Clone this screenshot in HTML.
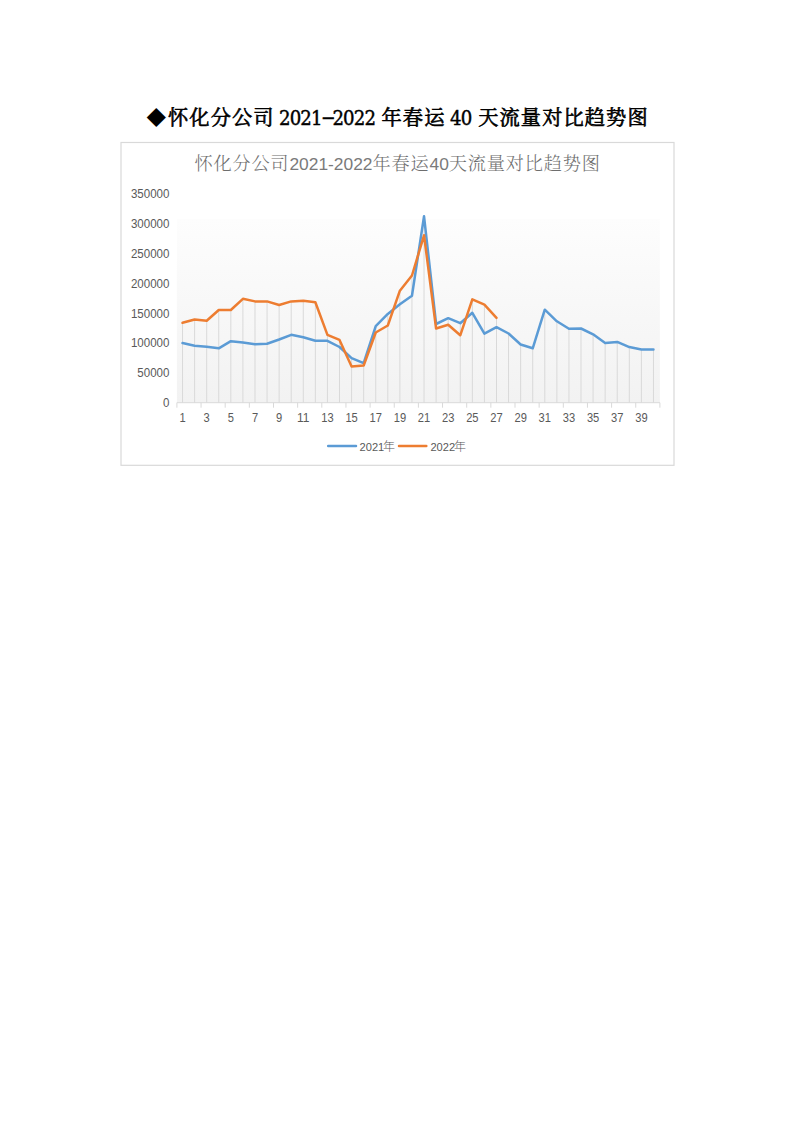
<!DOCTYPE html>
<html><head><meta charset="utf-8"><style>
html,body{margin:0;padding:0;background:#fff;}
body{width:793px;height:1122px;position:relative;overflow:hidden;}
.h{position:absolute;top:0;font-family:"Liberation Serif","Noto Serif CJK SC",serif;font-weight:700;font-size:21.33px;line-height:1;white-space:nowrap;color:#000;}
.hc{font-family:"Noto Serif CJK SC",serif;font-weight:400;-webkit-text-stroke:0.65px #000;}
.n{font-family:'DejaVu Serif',serif;font-weight:400;-webkit-text-stroke:0.45px #000;transform:scaleX(0.86);transform-origin:0 0;}
svg{position:absolute;left:0;top:0;}
.tt{font-family:'Liberation Sans',sans-serif;font-size:17.4px;fill:#7a7a7a;}
.tc{font-family:'Noto Serif CJK SC',serif;font-size:18.2px;font-weight:300;letter-spacing:0.8px;fill:#6e6e6e;}
.lg text{font-size:11.1px !important;}
.lc{font-family:'Noto Sans CJK SC',sans-serif;font-size:12px;font-weight:300;}
.ax text{font-family:"Liberation Sans",sans-serif;font-size:12px;fill:#595959;}
</style></head><body>
<div class="h hc" style="left:146.6px;top:106.5px;font-size:19.6px;-webkit-text-stroke:0;font-weight:700">◆</div>
<div class="h hc" style="left:168px;top:107px;font-size:20.2px;letter-spacing:1.13px">怀化分公司</div>
<div class="h n" style="left:279px;top:107.4px;font-size:21.1px;letter-spacing:-1px">2021<span style="display:inline-block;width:12.4px;text-align:center;transform:scaleX(2.3);position:relative;top:-1.6px">-</span>2022</div>
<div class="h hc" style="left:381.5px;top:107px;font-size:20.2px;letter-spacing:1.13px">年春运</div>
<div class="h n" style="left:450px;top:107.4px;font-size:21.1px;letter-spacing:-1px">40</div>
<div class="h hc" style="left:478.2px;top:107px;font-size:20.2px;letter-spacing:1.13px">天流量对比趋势图</div>
<svg width="793" height="1122" viewBox="0 0 793 1122">
<defs><linearGradient id="g" x1="0" y1="0" x2="0" y2="1">
<stop offset="0" stop-color="#fdfdfd"/><stop offset="1" stop-color="#f2f2f2"/></linearGradient></defs>
<rect x="121.0" y="142.5" width="553" height="322.8" fill="#fff" stroke="#d9d9d9" stroke-width="1.2"/>
<rect x="176.90" y="219" width="483.00" height="183.70" fill="url(#g)"/>
<path d="M182.54 322.80V402.70 M194.61 319.50V402.70 M206.69 320.80V402.70 M218.76 310.00V402.70 M230.84 310.00V402.70 M242.91 298.80V402.70 M254.99 301.40V402.70 M267.06 301.40V402.70 M279.14 305.00V402.70 M291.21 301.40V402.70 M303.29 300.70V402.70 M315.36 302.30V402.70 M327.44 334.90V402.70 M339.51 339.90V402.70 M351.59 358.10V402.70 M363.66 363.20V402.70 M375.74 326.20V402.70 M387.81 313.90V402.70 M399.89 290.70V402.70 M411.96 275.50V402.70 M424.04 216.30V402.70 M436.11 324.00V402.70 M448.19 318.20V402.70 M460.26 323.20V402.70 M472.34 299.40V402.70 M484.41 304.70V402.70 M496.49 317.80V402.70 M508.56 333.50V402.70 M520.64 344.50V402.70 M532.71 348.30V402.70 M544.79 309.70V402.70 M556.86 321.30V402.70 M568.94 328.80V402.70 M581.01 328.50V402.70 M593.09 334.30V402.70 M605.16 342.90V402.70 M617.24 341.90V402.70 M629.31 347.10V402.70 M641.39 349.40V402.70 M653.46 349.40V402.70" stroke="#d9d9d9" stroke-width="1" fill="none"/>
<path d="M176.90 402.70H659.90 M176.90 402.70V407.7 M201.05 402.70V407.7 M225.20 402.70V407.7 M249.35 402.70V407.7 M273.50 402.70V407.7 M297.65 402.70V407.7 M321.80 402.70V407.7 M345.95 402.70V407.7 M370.10 402.70V407.7 M394.25 402.70V407.7 M418.40 402.70V407.7 M442.55 402.70V407.7 M466.70 402.70V407.7 M490.85 402.70V407.7 M515.00 402.70V407.7 M539.15 402.70V407.7 M563.30 402.70V407.7 M587.45 402.70V407.7 M611.60 402.70V407.7 M635.75 402.70V407.7 M659.90 402.70V407.7" stroke="#d9d9d9" stroke-width="1" fill="none"/>
<polyline points="182.54,343.00 194.61,345.80 206.69,346.80 218.76,348.30 230.84,341.20 242.91,342.50 254.99,344.30 267.06,343.80 279.14,339.50 291.21,334.80 303.29,337.20 315.36,340.70 327.44,340.80 339.51,347.00 351.59,358.10 363.66,363.20 375.74,326.20 387.81,313.90 399.89,304.30 411.96,295.70 424.04,216.30 436.11,324.00 448.19,318.20 460.26,323.20 472.34,312.80 484.41,333.70 496.49,327.20 508.56,333.50 520.64,344.50 532.71,348.30 544.79,309.70 556.86,321.30 568.94,328.80 581.01,328.50 593.09,334.30 605.16,342.90 617.24,341.90 629.31,347.10 641.39,349.40 653.46,349.40" fill="none" stroke="#5B9BD5" stroke-width="2.5" stroke-linejoin="round" stroke-linecap="round"/>
<polyline points="182.54,322.80 194.61,319.50 206.69,320.80 218.76,310.00 230.84,310.00 242.91,298.80 254.99,301.40 267.06,301.40 279.14,305.00 291.21,301.40 303.29,300.70 315.36,302.30 327.44,334.90 339.51,339.90 351.59,366.50 363.66,365.50 375.74,332.50 387.81,325.50 399.89,290.70 411.96,275.50 424.04,235.30 436.11,328.50 448.19,324.70 460.26,335.30 472.34,299.40 484.41,304.70 496.49,317.80" fill="none" stroke="#ED7D31" stroke-width="2.5" stroke-linejoin="round" stroke-linecap="round"/>
<g class="ax" text-anchor="middle"><text x="182.54" y="422.2" textLength="6.20" lengthAdjust="spacingAndGlyphs">1</text><text x="206.69" y="422.2" textLength="6.20" lengthAdjust="spacingAndGlyphs">3</text><text x="230.84" y="422.2" textLength="6.20" lengthAdjust="spacingAndGlyphs">5</text><text x="254.99" y="422.2" textLength="6.20" lengthAdjust="spacingAndGlyphs">7</text><text x="279.14" y="422.2" textLength="6.20" lengthAdjust="spacingAndGlyphs">9</text><text x="303.29" y="422.2" textLength="12.40" lengthAdjust="spacingAndGlyphs">11</text><text x="327.44" y="422.2" textLength="12.40" lengthAdjust="spacingAndGlyphs">13</text><text x="351.59" y="422.2" textLength="12.40" lengthAdjust="spacingAndGlyphs">15</text><text x="375.74" y="422.2" textLength="12.40" lengthAdjust="spacingAndGlyphs">17</text><text x="399.89" y="422.2" textLength="12.40" lengthAdjust="spacingAndGlyphs">19</text><text x="424.04" y="422.2" textLength="12.40" lengthAdjust="spacingAndGlyphs">21</text><text x="448.19" y="422.2" textLength="12.40" lengthAdjust="spacingAndGlyphs">23</text><text x="472.34" y="422.2" textLength="12.40" lengthAdjust="spacingAndGlyphs">25</text><text x="496.49" y="422.2" textLength="12.40" lengthAdjust="spacingAndGlyphs">27</text><text x="520.64" y="422.2" textLength="12.40" lengthAdjust="spacingAndGlyphs">29</text><text x="544.79" y="422.2" textLength="12.40" lengthAdjust="spacingAndGlyphs">31</text><text x="568.94" y="422.2" textLength="12.40" lengthAdjust="spacingAndGlyphs">33</text><text x="593.09" y="422.2" textLength="12.40" lengthAdjust="spacingAndGlyphs">35</text><text x="617.24" y="422.2" textLength="12.40" lengthAdjust="spacingAndGlyphs">37</text><text x="641.39" y="422.2" textLength="12.40" lengthAdjust="spacingAndGlyphs">39</text></g>
<g class="ax" text-anchor="end"><text x="169.4" y="407.20" textLength="6.42" lengthAdjust="spacingAndGlyphs">0</text><text x="169.4" y="377.30" textLength="32.10" lengthAdjust="spacingAndGlyphs">50000</text><text x="169.4" y="347.40" textLength="38.52" lengthAdjust="spacingAndGlyphs">100000</text><text x="169.4" y="317.50" textLength="38.52" lengthAdjust="spacingAndGlyphs">150000</text><text x="169.4" y="287.60" textLength="38.52" lengthAdjust="spacingAndGlyphs">200000</text><text x="169.4" y="257.70" textLength="38.52" lengthAdjust="spacingAndGlyphs">250000</text><text x="169.4" y="227.80" textLength="38.52" lengthAdjust="spacingAndGlyphs">300000</text><text x="169.4" y="197.90" textLength="38.52" lengthAdjust="spacingAndGlyphs">350000</text></g>
<text x="397.6" y="170.2" text-anchor="middle" class="tt"><tspan class="tc">怀化分公司</tspan>2021-2022<tspan class="tc">年春运</tspan>40<tspan class="tc">天流量对比趋势图</tspan></text>
<path d="M328.2 446.1H356" stroke="#5B9BD5" stroke-width="2.5" stroke-linecap="round"/>
<path d="M399 446.1H426.3" stroke="#ED7D31" stroke-width="2.5" stroke-linecap="round"/>
<g class="ax lg"><text x="359.6" y="450.7">2021<tspan class="lc" dx="-1.2">年</tspan></text>
<text x="430.4" y="450.7">2022<tspan class="lc" dx="-1.2">年</tspan></text></g>
</svg>
</body></html>
